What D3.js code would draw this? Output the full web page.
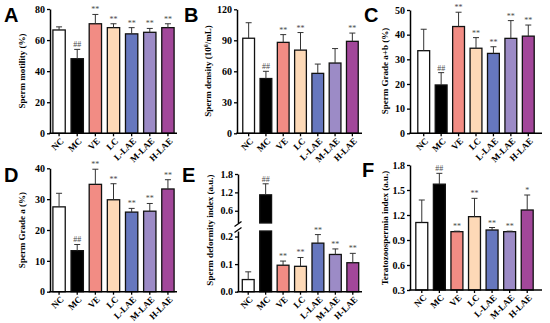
<!DOCTYPE html>
<html><head><meta charset="utf-8">
<script src="https://cdn.jsdelivr.net/npm/d3@7"></script>
<style>
html,body{margin:0;padding:0;background:#fff;}
svg{display:block;}
.tick text{font-family:"Liberation Serif","Times New Roman",serif;font-weight:bold;fill:#000;}
</style></head>
<body>
<script>
// ---------- DATA ----------
const categories = ["NC","MC","VE","LC","L-LAE","M-LAE","H-LAE"];
const barColors = ["#ffffff","#000000","#F28C84","#FDD9B7","#6677BE","#9C8BC6","#A2479A"];

const motility = [66.5, 48, 70.5, 68, 64, 65, 68];
const motilityErr = [2, 6, 6, 2.5, 4, 2.5, 2.5];
const motilitySig = ["", "##", "**", "**", "**", "**", "**"];
const motilityTicks = [0, 20, 40, 60, 80];

const density = [92, 53, 88, 80.5, 58, 68, 89];
const densityErr = [15, 7, 7.5, 17, 9, 14, 8];
const densitySig = ["", "##", "**", "**", "", "", "**"];
const densityTicks = [0, 30, 60, 90, 120];

const gradeAB = [33.5, 19.6, 43.3, 34.5, 32.4, 38.5, 39.4];
const gradeABErr = [8.7, 5, 5.8, 4.3, 2.7, 7.2, 4.5];
const gradeABSig = ["", "##", "**", "**", "**", "**", "**"];
const gradeABTicks = [0, 10, 20, 30, 40, 50];

const gradeA = [27.5, 13.3, 34.8, 29.8, 25.8, 26.1, 33.3];
const gradeAErr = [4.4, 2, 4.9, 5.2, 1.2, 2.5, 3];
const gradeASig = ["", "##", "**", "**", "**", "**", "**"];
const gradeATicks = [0, 10, 20, 30, 40];

const deformity = [0.044, 1.12, 0.096, 0.092, 0.176, 0.135, 0.105];
const deformityErr = [0.028, 0.36, 0.015, 0.032, 0.031, 0.02, 0.034];
const deformitySig = ["", "##", "**", "**", "**", "**", "**"];
const deformityTicksLow = [0.0, 0.1, 0.2];
const deformityTicksHigh = [0.6, 1.2, 1.8];

const terato = [1.11, 1.57, 1.0, 1.18, 1.02, 1.0, 1.26];
const teratoErr = [0.27, 0.13, 0.006, 0.22, 0.03, 0.006, 0.18];
const teratoSig = ["", "##", "**", "**", "**", "**", "*"];
const teratoTicks = [0.3, 0.6, 0.9, 1.2, 1.5, 1.8];

// ---------- DRAW ----------
const W = 550, H = 323;
const svg = d3.select("body").append("svg").attr("width", W).attr("height", H);
const SERIF = '"Liberation Serif","Times New Roman",serif';
const SANS = '"Liberation Sans",Arial,sans-serif';
const SIGCOL = "#4a4a4a";

function drawPanel(cfg) {
  const g = svg.append("g");
  const x = d3.scaleBand().domain(categories).range(cfg.xr).paddingInner(0.32).paddingOuter(0.16);
  const y = d3.scaleLinear().domain(cfg.yd).range(cfg.yr);
  const base = cfg.yr[0];

  g.selectAll("rect.bar").data(cfg.values).join("rect")
    .attr("x", (d, i) => x(categories[i]))
    .attr("width", x.bandwidth())
    .attr("y", d => y(d))
    .attr("height", d => base - y(d))
    .attr("fill", (d, i) => barColors[i])
    .attr("stroke", "#111").attr("stroke-width", 1.3);

  const eg = g.append("g").attr("stroke", "#333").attr("stroke-width", 1);
  cfg.values.forEach((v, i) => {
    const cx = x(categories[i]) + x.bandwidth() / 2;
    const top = y(v + cfg.err[i]);
    eg.append("line").attr("x1", cx).attr("x2", cx).attr("y1", y(v)).attr("y2", top);
    eg.append("line").attr("x1", cx - 3).attr("x2", cx + 3).attr("y1", top).attr("y2", top);
    if (cfg.sig[i]) {
      g.append("text").attr("x", cx).attr("y", top - 2)
        .attr("text-anchor", "middle").attr("font-family", SERIF)
        .attr("font-size", 8).attr("fill", SIGCOL).text(cfg.sig[i]);
    }
  });

  const ya = g.append("g").attr("transform", `translate(${cfg.ax},0)`)
    .call(d3.axisLeft(y).tickValues(cfg.ticks).tickFormat(cfg.fmt).tickSize(3).tickSizeOuter(0).tickPadding(2));
  styleAxis(ya);

  drawXAxis(g, x, cfg.ax, cfg.xend, base);
  drawLabels(g, cfg);
}

function styleAxis(a) {
  a.selectAll("path.domain").attr("stroke", "#000").attr("stroke-width", 1.5);
  a.selectAll(".tick line").attr("stroke", "#000").attr("stroke-width", 1.3);
  a.selectAll(".tick text").attr("font-size", 10);
}

function drawXAxis(g, x, ax, xend, base) {
  const xa = g.append("g").attr("transform", `translate(0,${base})`)
    .call(d3.axisBottom(x).tickSize(3).tickSizeOuter(0).tickPadding(2));
  xa.select("path.domain").remove();
  xa.selectAll(".tick line").attr("stroke", "#000").attr("stroke-width", 1.3);
  xa.selectAll(".tick text").attr("font-size", 9)
    .attr("text-anchor", "end")
    .attr("x", 0).attr("y", 0).attr("dy", "0.35em")
    .attr("transform", "translate(3,6) rotate(-45)");
  g.append("line").attr("x1", ax - 0.75).attr("x2", xend).attr("y1", base).attr("y2", base)
    .attr("stroke", "#000").attr("stroke-width", 1.5);
}

function drawLabels(g, cfg) {
  g.append("text").attr("x", cfg.lx).attr("y", cfg.ly)
    .attr("font-family", SANS).attr("font-weight", "bold").attr("font-size", 20).text(cfg.letter);
  g.append("text").attr("transform", `translate(${cfg.tx},${cfg.tcy}) rotate(-90)`)
    .attr("text-anchor", "middle").attr("font-family", SERIF).attr("font-weight", "bold")
    .attr("font-size", 9).html(cfg.title);
}

const fmt0 = d3.format("d");
const fmt1 = d3.format(".1f");

drawPanel({values: motility, err: motilityErr, sig: motilitySig, ticks: motilityTicks, fmt: fmt0,
  yd: [0, 80], yr: [133.3, 9], xr: [50, 177], ax: 50, xend: 177,
  letter: "A", lx: 4, ly: 22, title: "Sperm motility (%)", tx: 25, tcy: 71});

drawPanel({values: density, err: densityErr, sig: densitySig, ticks: densityTicks, fmt: fmt0,
  yd: [0, 120], yr: [133.3, 9.3], xr: [240, 361], ax: 237, xend: 362,
  letter: "B", lx: 184, ly: 22, title: "Sperm density (10<tspan baseline-shift='super' font-size='6'>6</tspan>/mL)", tx: 211, tcy: 71});

drawPanel({values: gradeAB, err: gradeABErr, sig: gradeABSig, ticks: gradeABTicks, fmt: fmt0,
  yd: [0, 50], yr: [133.3, 10], xr: [415, 537], ax: 410, xend: 542,
  letter: "C", lx: 364, ly: 22, title: "Sperm Grade a+b (%)", tx: 388, tcy: 71});

drawPanel({values: gradeA, err: gradeAErr, sig: gradeASig, ticks: gradeATicks, fmt: fmt0,
  yd: [0, 40], yr: [291.7, 168.3], xr: [50, 177], ax: 50, xend: 177,
  letter: "D", lx: 4, ly: 182, title: "Sperm Grade a (%)", tx: 25, tcy: 230});

drawPanel({values: terato, err: teratoErr, sig: teratoSig, ticks: teratoTicks, fmt: fmt1,
  yd: [0.3, 1.8], yr: [290, 165], xr: [413, 536], ax: 410, xend: 542,
  letter: "F", lx: 362, ly: 177, title: "Teratozoospermia index (a.u.)", tx: 388, tcy: 228});

// Panel E with broken axis
(function () {
  const g = svg.append("g");
  const ax = 238, xend = 362, base = 291.7;
  const x = d3.scaleBand().domain(categories).range([239.5, 361.5]).paddingInner(0.32).paddingOuter(0.16);
  const yLow = d3.scaleLinear().domain([0, 0.22]).range([base, 231]);
  const yHigh = d3.scaleLinear().domain([0.2, 1.8]).range([223, 174]);
  const yv = v => (v <= 0.22 ? yLow(v) : yHigh(v));

  deformity.forEach((v, i) => {
    const bx = x(categories[i]), bw = x.bandwidth();
    const attrs = r => r.attr("x", bx).attr("width", bw).attr("fill", barColors[i])
      .attr("stroke", "#111").attr("stroke-width", 1.3);
    if (v <= 0.22) {
      attrs(g.append("rect")).attr("y", yLow(v)).attr("height", base - yLow(v));
    } else {
      attrs(g.append("rect")).attr("y", yLow(0.22)).attr("height", base - yLow(0.22));
      attrs(g.append("rect")).attr("y", yHigh(v)).attr("height", yHigh(0.2) - yHigh(v));
    }
    const cx = bx + bw / 2, top = yv(v + deformityErr[i]);
    g.append("line").attr("x1", cx).attr("x2", cx).attr("y1", yv(v)).attr("y2", top).attr("stroke", "#333");
    g.append("line").attr("x1", cx - 3).attr("x2", cx + 3).attr("y1", top).attr("y2", top).attr("stroke", "#333");
    if (deformitySig[i]) {
      g.append("text").attr("x", cx).attr("y", top - 2).attr("text-anchor", "middle")
        .attr("font-family", SERIF).attr("font-size", 8).attr("fill", SIGCOL).text(deformitySig[i]);
    }
  });

  const fmtE = d3.format(".1f");
  const a1 = g.append("g").attr("transform", `translate(${ax},0)`)
    .call(d3.axisLeft(yLow).tickValues(deformityTicksLow).tickFormat(fmtE).tickSize(3).tickSizeOuter(0).tickPadding(2));
  styleAxis(a1);
  const a2 = g.append("g").attr("transform", `translate(${ax},0)`)
    .call(d3.axisLeft(yHigh).tickValues(deformityTicksHigh).tickFormat(fmtE).tickSize(3).tickSizeOuter(0).tickPadding(2));
  styleAxis(a2);
  [yHigh(0.2) + 1, yLow(0.22) - 1].forEach(yy => {
    g.append("line").attr("x1", ax - 3.5).attr("x2", ax + 3.5).attr("y1", yy + 2.5).attr("y2", yy - 2.5)
      .attr("stroke", "#000").attr("stroke-width", 1.3);
  });

  drawXAxis(g, x, ax, xend, base);
  drawLabels(g, {letter: "E", lx: 182, ly: 182, title: "Sperm deformity index (a.u.)", tx: 213, tcy: 230});
})();
</script>
</body></html>
